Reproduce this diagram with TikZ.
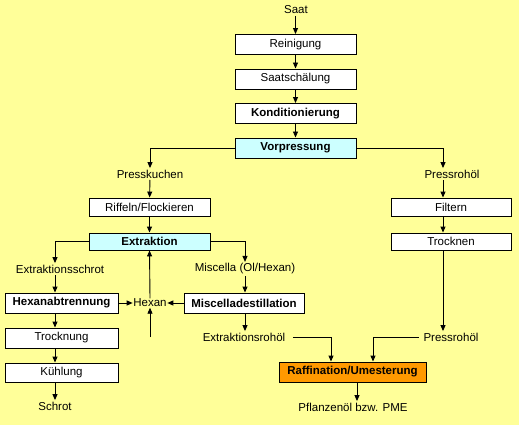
\documentclass[tikz,border=0pt]{standalone}
\usepackage{fontspec}
\setmainfont{Liberation Sans}
\usetikzlibrary{arrows.meta}
\definecolor{bgyellow}{HTML}{FFFF99}
\definecolor{cyanfill}{HTML}{CCFFFF}
\definecolor{orangefill}{HTML}{FF9900}
\begin{document}
\begin{tikzpicture}[x=1pt,y=-1pt,
  font=\fontsize{11.5}{13}\selectfont,
  box/.style={draw=black,line width=0.9pt,fill=white,inner sep=0pt,minimum width=121pt,minimum height=20pt},
  boldbox/.style={box,font=\fontsize{11.5}{13}\selectfont\bfseries},
  lbl/.style={inner sep=1.5pt},
  conn/.style={line width=0.9pt,-{Triangle[length=6pt,width=5pt]}},
  plain/.style={line width=0.9pt}]
\fill[bgyellow] (0,0) rectangle (519,425);
\useasboundingbox (0,0) rectangle (519,425);
% column coordinates
\coordinate (rc) at (443,0);
\coordinate (lc) at (55,0);
\coordinate (mc) at (245,0);
% boxes
\node[box] (rein) at (295.5,44.5) {Reinigung};
\node[box] (schael) at (295.5,79) {Saatschälung};
\node[boldbox] (kond) at (295.5,113.5) {Konditionierung};
\node[boldbox,fill=cyanfill] (vorp) at (295.5,148) {Vorpressung};
\node[box,minimum height=18pt] (riff) at (149.5,207) {Riffeln/Flockieren};
\node[box,minimum width=120pt,minimum height=18pt] (filt) at (451,207) {Filtern};
\node[boldbox,fill=cyanfill,minimum height=17pt] (extr) at (149.5,241.5) {Extraktion};
\node[box,minimum width=120pt,minimum height=17pt] (trockn) at (451,241.5) {Trocknen};
\node[boldbox,minimum width=113pt] (hexab) at (61.5,303) {Hexanabtrennung};
\node[boldbox,minimum width=120pt] (misd) at (244,303) {Miscelladestillation};
\node[box,minimum width=113pt] (trung) at (61.5,338) {Trocknung};
\node[box,minimum width=113pt,minimum height=19pt] (kuehl) at (61.5,372.5) {Kühlung};
\node[boldbox,fill=orangefill,minimum width=147pt] (raff) at (352.5,372) {Raffination/Umesterung};
% labels
\node[lbl] (saat) at (296,10) {Saat};
\node[lbl] (presk) at (150,174) {Presskuchen};
\node[lbl] (pr1) at (452,174) {Pressrohöl};
\node[lbl] (exs) at (60,269) {Extraktionsschrot};
\node[lbl] (misc) at (245,269) {Miscella (Ol/Hexan)};
\node[inner sep=0.5pt] (hex) at (150,303) {Hexan};
\node[lbl] (exro) at (244,337) {Extraktionsrohöl};
\node[lbl] (pr2) at (451,337) {Pressrohöl};
\node[lbl] (schrot) at (55,406) {Schrot};
\node[lbl] (pfl) at (353,407) {Pflanzenöl bzw. PME};
\coordinate (hexlow) at (150,337);
% connectors
\draw[conn] (saat.south -| rein.north) -- (rein.north);
\draw[conn] (rein) -- (schael);
\draw[conn] (schael) -- (kond);
\draw[conn] (kond) -- (vorp);
\draw[conn] (vorp.west) -| (presk.north);
\draw[conn] (vorp.east) -| (rc |- pr1.north);
\draw[conn] (presk) -- (riff);
\draw[conn] (rc |- pr1.south) -- (rc |- filt.north);
\draw[conn] (riff) -- (extr);
\draw[conn] (rc |- filt.south) -- (rc |- trockn.north);
\draw[conn] (extr.west) -| (lc |- exs.north);
\draw[conn] (extr.east) -| (mc |- misc.north);
\draw[conn] (lc |- exs.south) -- (lc |- hexab.north);
\draw[conn] (mc |- misc.south) -- (mc |- misd.north);
\draw[conn] (hexab.east) -- (hex.west);
\draw[conn] (misd.west) -- (hex.east);
\draw[conn] (hex.north) -- (extr.south);
\draw[conn] (hexlow) -- (hex.south);
\draw[conn] (lc |- hexab.south) -- (lc |- trung.north);
\draw[conn] (lc |- trung.south) -- (lc |- kuehl.north);
\draw[conn] (lc |- kuehl.south) -- (schrot.north);
\draw[conn] (mc |- misd.south) -- (mc |- exro.north);
\draw[conn] (rc |- trockn.south) -- (rc |- pr2.north);
\draw[conn] ([xshift=6pt]exro.east) -| ([xshift=-21.5pt]raff.north);
\draw[conn] ([xshift=-3pt]pr2.west) -| ([xshift=20.5pt]raff.north);
\draw[conn] ([xshift=4.5pt]raff.south) -- ([xshift=4pt]pfl.north);
\end{tikzpicture}
\end{document}
